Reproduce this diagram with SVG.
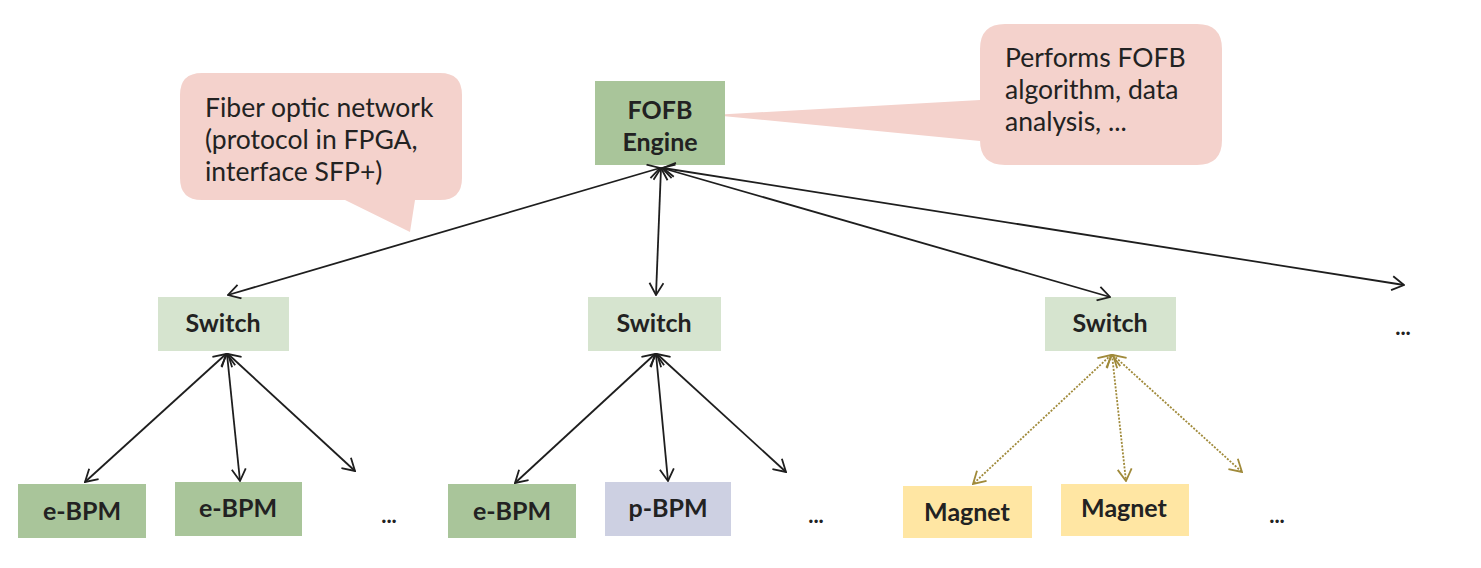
<svg xmlns="http://www.w3.org/2000/svg" width="1481" height="568" viewBox="0 0 1481 568">
<style>
.t{font-family:Lato,"Open Sans","Liberation Sans",sans-serif;fill:#222}
.call{fill:#f4d2cc}
.callt{font-size:26.5px}
.nt{font-size:25px;font-weight:bold;text-anchor:middle}
.green{fill:#a9c59a}
.sw{fill:#d6e4cf}
.pb{fill:#cdd0e2}
.mag{fill:#ffe6a3}
.ln{stroke:#1e1e1e;stroke-width:1.8;fill:none;marker-start:url(#ah);marker-end:url(#ah)}
.dt{stroke:#a08a3a;stroke-width:1.8;fill:none;stroke-dasharray:2 1.5;marker-start:url(#ahy);marker-end:url(#ahy)}
.dots{font-size:22px;font-weight:bold;text-anchor:middle}
</style>
<defs>
<marker id="ah" viewBox="0 0 14 16" refX="13" refY="8" markerWidth="14" markerHeight="16" markerUnits="userSpaceOnUse" orient="auto-start-reverse">
<path d="M1,1 L13,8 L1,15" fill="none" stroke="#1e1e1e" stroke-width="1.8"/>
</marker>
<marker id="ahy" viewBox="0 0 14 16" refX="13" refY="8" markerWidth="14" markerHeight="16" markerUnits="userSpaceOnUse" orient="auto-start-reverse">
<path d="M1,1 L13,8 L1,15" fill="none" stroke="#a08a3a" stroke-width="1.8"/>
</marker>
</defs>

<g id="callout-fiber">
<path class="call" d="M202,73 H440 Q462,73 462,95 V178 Q462,200 440,200 H415 L410,232 L345,200 H202 Q180,200 180,178 V95 Q180,73 202,73 Z"/>
<text class="t callt" x="205" y="117">Fiber optic network</text>
<text class="t callt" x="205" y="149">(protocol in FPGA,</text>
<text class="t callt" x="205" y="181">interface SFP+)</text>
</g>

<g id="callout-fofb">
<path class="call" d="M1005,24 H1197 Q1222,24 1222,49 V140 Q1222,165 1197,165 H1005 Q980,165 980,140 V141 L712,115 L980,100 V49 Q980,24 1005,24 Z"/>
<text class="t callt" x="1005" y="67">Performs FOFB</text>
<text class="t callt" x="1005" y="99">algorithm, data</text>
<text class="t callt" x="1005" y="131">analysis, ...</text>
</g>

<g id="fofb-engine">
<rect class="green" x="595" y="81" width="130" height="84"/>
<text class="t nt" x="660" y="119">FOFB</text>
<text class="t nt" x="660" y="151">Engine</text>
</g>

<g id="switch-1">
<rect class="sw" x="158" y="297" width="131" height="54"/>
<text class="t nt" x="223" y="332">Switch</text>
</g>
<g id="switch-2">
<rect class="sw" x="588" y="297" width="133" height="54"/>
<text class="t nt" x="654" y="332">Switch</text>
</g>
<g id="switch-3">
<rect class="sw" x="1045" y="297" width="131" height="54"/>
<text class="t nt" x="1110" y="332">Switch</text>
</g>

<g id="ebpm-1">
<rect class="green" x="18" y="484" width="128" height="54"/>
<text class="t nt" x="82" y="520">e-BPM</text>
</g>
<g id="ebpm-2">
<rect class="green" x="175" y="482" width="127" height="54"/>
<text class="t nt" x="238" y="517">e-BPM</text>
</g>
<g id="ebpm-3">
<rect class="green" x="448" y="484" width="128" height="54"/>
<text class="t nt" x="512" y="520">e-BPM</text>
</g>
<g id="pbpm">
<rect class="pb" x="605" y="482" width="126" height="54"/>
<text class="t nt" x="668" y="517">p-BPM</text>
</g>
<g id="magnet-1">
<rect class="mag" x="903" y="486" width="129" height="52"/>
<text class="t nt" x="967" y="521">Magnet</text>
</g>
<g id="magnet-2">
<rect class="mag" x="1061" y="484" width="128" height="52"/>
<text class="t nt" x="1124" y="517">Magnet</text>
</g>

<g id="ellipses">
<text class="t dots" x="389" y="523">...</text>
<text class="t dots" x="816" y="523">...</text>
<text class="t dots" x="1277" y="523">...</text>
<text class="t dots" x="1403" y="335">...</text>
</g>

<g id="connectors">
<line class="ln" x1="660" y1="168" x2="228" y2="295"/>
<line class="ln" x1="661" y1="168" x2="656" y2="295"/>
<line class="ln" x1="662" y1="168" x2="1110" y2="297"/>
<line class="ln" x1="663" y1="168" x2="1404" y2="285"/>

<line class="ln" x1="226" y1="354" x2="85" y2="482"/>
<line class="ln" x1="227" y1="354" x2="240" y2="481"/>
<line class="ln" x1="228" y1="354" x2="355" y2="471"/>

<line class="ln" x1="655" y1="354" x2="515" y2="483"/>
<line class="ln" x1="656" y1="354" x2="668" y2="481"/>
<line class="ln" x1="657" y1="354" x2="786" y2="472"/>

<line class="dt" x1="1111" y1="355" x2="973" y2="484"/>
<line class="dt" x1="1112" y1="355" x2="1126" y2="481"/>
<line class="dt" x1="1113" y1="355" x2="1242" y2="472"/>
</g>
</svg>
